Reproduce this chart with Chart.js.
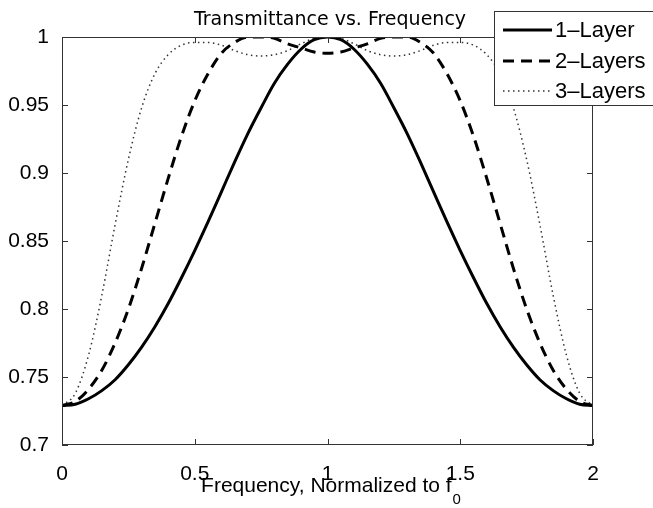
<!DOCTYPE html>
<html>
<head>
    <meta charset="utf-8">
    <title>Transmittance vs. Frequency</title>
    <script src="https://cdn.jsdelivr.net/npm/chart.js@4.4.0/dist/chart.umd.min.js"></script>
    <style>
        body { margin: 0; background: #fff; }
    </style>
</head>
<body>
    <canvas id="chart" width="653" height="508"></canvas>

    <script>
        // normalized frequency (x) and transmittance for each coating
        const freq = [0, 0.05, 0.1, 0.15, 0.2, 0.25, 0.3, 0.35, 0.4, 0.45, 0.5, 0.55, 0.6, 0.65, 0.7, 0.75, 0.8, 0.85, 0.9, 0.95,
            1, 1.05, 1.1, 1.15, 1.2, 1.25, 1.3, 1.35, 1.4, 1.45, 1.5, 1.55, 1.6, 1.65, 1.7, 1.75, 1.8, 1.85, 1.9, 1.95, 2];
        const oneLayer = [0.729, 0.730, 0.734, 0.740, 0.748, 0.759, 0.772, 0.787, 0.804, 0.823, 0.843, 0.864, 0.886, 0.908, 0.929, 0.948, 0.966, 0.980, 0.991, 0.998,
            1.000, 0.998, 0.991, 0.980, 0.966, 0.948, 0.929, 0.908, 0.886, 0.864, 0.843, 0.823, 0.804, 0.787, 0.772, 0.759, 0.748, 0.740, 0.734, 0.730, 0.729];
        const twoLayers = [0.729, 0.732, 0.741, 0.755, 0.775, 0.800, 0.830, 0.863, 0.896, 0.927, 0.953, 0.973, 0.988, 0.996, 1.000, 1.000, 0.999, 0.995, 0.992, 0.989,
            0.988, 0.989, 0.992, 0.995, 0.999, 1.000, 1.000, 0.996, 0.988, 0.973, 0.953, 0.927, 0.896, 0.863, 0.830, 0.800, 0.775, 0.755, 0.741, 0.732, 0.729];
        const threeLayers = [0.729, 0.738, 0.766, 0.810, 0.862, 0.910, 0.948, 0.973, 0.987, 0.994, 0.996, 0.996, 0.994, 0.990, 0.987, 0.986, 0.987, 0.990, 0.995, 0.999,
            1.000, 0.999, 0.995, 0.990, 0.987, 0.986, 0.987, 0.990, 0.994, 0.996, 0.996, 0.994, 0.987, 0.973, 0.948, 0.910, 0.862, 0.810, 0.766, 0.738, 0.729];
        const seriesNames = ['1\u2013Layer', '2\u2013Layers', '3\u2013Layers'];
        const xTicks = [0, 0.5, 1, 1.5, 2];
        const yTicks = [0.7, 0.75, 0.8, 0.85, 0.9, 0.95, 1];

        const tickFont = { family: 'Liberation Sans', size: 21 };
        const fmt = v => String(Number(v.toFixed(2)));
        const pts = arr => freq.map((f, i) => ({ x: f, y: arr[i] }));

        // frame, inward ticks, title, x label and legend drawn matlab style
        const matlabBits = {
            id: 'matlabBits',
            afterDraw(chart) {
                const ctx = chart.ctx;
                const a = chart.chartArea;
                const xs = chart.scales.x, ys = chart.scales.y;
                ctx.save();
                ctx.strokeStyle = '#333';
                ctx.lineWidth = 1;
                ctx.strokeRect(a.left + 0.5, a.top + 0.5, a.right - a.left - 1, a.bottom - a.top - 1);
                ctx.beginPath();
                xTicks.forEach(v => {
                    const px = Math.round(xs.getPixelForValue(v)) + 0.5;
                    ctx.moveTo(px, a.bottom); ctx.lineTo(px, a.bottom - 6);
                    ctx.moveTo(px, a.top); ctx.lineTo(px, a.top + 6);
                });
                yTicks.forEach(v => {
                    const py = Math.round(ys.getPixelForValue(v)) + 0.5;
                    ctx.moveTo(a.left, py); ctx.lineTo(a.left + 6, py);
                    ctx.moveTo(a.right, py); ctx.lineTo(a.right - 6, py);
                });
                ctx.stroke();

                // title
                ctx.fillStyle = '#000';
                ctx.textAlign = 'center';
                ctx.textBaseline = 'alphabetic';
                ctx.font = '19px "DejaVu Sans"';
                ctx.fillText('Transmittance vs. Frequency', 330, 25);

                // x label with subscript
                const main = 'Frequency, Normalized to f';
                ctx.font = '21px "Liberation Sans"';
                const w1 = ctx.measureText(main).width;
                ctx.font = '15px "Liberation Sans"';
                const w2 = ctx.measureText('0').width;
                let x0 = (a.left + a.right) / 2 - (w1 + w2) / 2 + 3;
                ctx.textAlign = 'left';
                ctx.font = '21px "Liberation Sans"';
                ctx.fillText(main, x0, 492);
                ctx.font = '15px "Liberation Sans"';
                ctx.fillText('0', x0 + w1 + 1, 504);

                // legend
                ctx.fillStyle = '#fff';
                ctx.fillRect(494.5, 11.5, 200, 94);
                ctx.strokeStyle = '#333';
                ctx.strokeRect(494.5, 11.5, 200, 94);
                const rows = [30, 61, 91];
                chart.data.datasets.forEach((ds, i) => {
                    ctx.strokeStyle = ds.borderColor;
                    ctx.lineWidth = ds.borderWidth;
                    ctx.setLineDash(ds.borderDash || []);
                    ctx.beginPath();
                    ctx.moveTo(503, rows[i]); ctx.lineTo(552, rows[i]);
                    ctx.stroke();
                    ctx.setLineDash([]);
                    ctx.fillStyle = '#000';
                    ctx.font = '22px "Liberation Sans"';
                    ctx.textBaseline = 'middle';
                    ctx.fillText(ds.label, 555, rows[i] + 1);
                });
                ctx.restore();
            }
        };

        const ctx = document.getElementById('chart').getContext('2d');
        const myChart = new Chart(ctx, {
            type: 'line',
            data: {
                datasets: [{
                    label: seriesNames[0],
                    data: pts(oneLayer),
                    borderColor: '#000',
                    borderWidth: 3
                }, {
                    label: seriesNames[1],
                    data: pts(twoLayers),
                    borderColor: '#000',
                    borderWidth: 3,
                    borderDash: [11, 7]
                }, {
                    label: seriesNames[2],
                    data: pts(threeLayers),
                    borderColor: '#333',
                    borderWidth: 1.5,
                    borderDash: [1.5, 3.5]
                }]
            },
            options: {
                responsive: false,
                animation: false,
                devicePixelRatio: 1,
                datasets: { line: { pointRadius: 0, cubicInterpolationMode: 'monotone', fill: false } },
                layout: { padding: { top: 37, right: 60, left: 0, bottom: 0 } },
                plugins: { legend: { display: false }, title: { display: false }, tooltip: { enabled: false } },
                scales: {
                    x: {
                        type: 'linear', min: 0, max: 2,
                        afterBuildTicks: s => { s.ticks = xTicks.map(v => ({ value: v })); },
                        afterFit: s => { s.height = 63; },
                        grid: { display: false }, border: { display: false },
                        ticks: { font: tickFont, color: '#000', padding: 9, maxRotation: 0, autoSkip: false, callback: v => fmt(v) }
                    },
                    y: {
                        min: 0.7, max: 1,
                        afterBuildTicks: s => { s.ticks = yTicks.map(v => ({ value: v })); },
                        afterFit: s => { s.width = 62; },
                        grid: { display: false }, border: { display: false },
                        ticks: { font: tickFont, color: '#000', padding: 5, autoSkip: false, callback: v => fmt(v) }
                    }
                }
            },
            plugins: [matlabBits]
        });
    </script>
</body>
</html>
